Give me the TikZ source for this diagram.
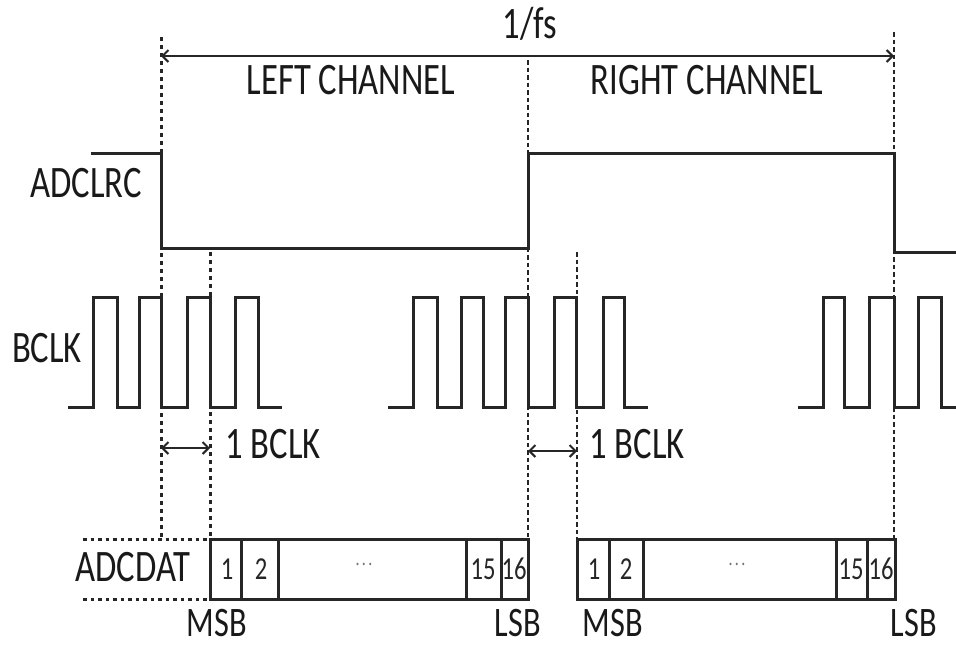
\documentclass[tikz,border=0pt]{standalone}
\usepackage{fontspec}
\setmainfont{Carlito}[FakeStretch=0.77]
\usetikzlibrary{arrows.meta}
\begin{document}
\begin{tikzpicture}[x=1pt,y=-1pt,
  sig/.style={line width=3pt, draw=black!85, line join=miter},
  guide/.style={line width=3pt, dash pattern=on 4pt off 4pt, draw=black!85},
  thinguide/.style={line width=2.2pt, dash pattern=on 4.5pt off 3pt, draw=black!85},
  dotguide/.style={line width=3pt, dash pattern=on 3.5pt off 4pt, draw=black!85},
  lbl/.style={font=\fontsize{45}{50}\selectfont, inner sep=0pt, text height=29pt, text depth=0pt, text=black!90},
  sblbl/.style={font=\fontsize{42}{46}\selectfont, inner sep=0pt, text height=27pt, text depth=0pt, text=black!90},
  cell/.style={font=\fontsize{32}{38}\selectfont, inner sep=0pt, text height=20pt, text depth=0pt, text=black!85},
  dotsl/.style={font=\fontsize{18}{20}\selectfont, inner sep=0pt, text=black!55},
  dim/.style={line width=2pt, draw=black!85, {Straight Barb[length=6pt,width=12pt,line width=2pt]}-{Straight Barb[length=6pt,width=12pt,line width=2pt]}}
]
\useasboundingbox (0,0) rectangle (956,646);

% named reference coordinates
\coordinate (t0) at (161,56);
\coordinate (t1) at (894,56);
\coordinate (a0) at (161,448);
\coordinate (a1) at (210,448);
\coordinate (b0) at (528,451);
\coordinate (b1) at (577,451);

% vertical guide lines
\draw[guide] (161,37) -- (161,539);
\draw[guide] (210,252) -- (210,539);
\draw[thinguide] (528,60) -- (528,539);
\draw[thinguide] (577,252) -- (577,539);
\draw[thinguide] (894,32) -- (894,539);

% 1/fs dimension
\draw[dim] (t0) -- (t1);
\node[lbl] (fs) at (530,24) {1/fs};
\node[lbl] (lc) at (351,80) {LEFT CHANNEL};
\node[lbl] (rc) at (707,80) {RIGHT CHANNEL};

% ADCLRC
\node[lbl] (lrc) at (86,183) {ADCLRC};
\draw[sig] (91,153) -- (161,153) -- (161,248) -- (528,248) -- (528,153) -- (894,153) -- (894,252) -- (956,252);

% BCLK
\node[lbl] (bclk) at (47,348) {BCLK};
\draw[sig] (68,407) -| (93,297) -| (117,407) -| (139,297) -| (161,407) -| (187,297) -| (210,407) -| (235,297) -| (258,407) -- (282,407);
\draw[sig] (388,407) -| (413,297) -| (437,407) -| (461,297) -| (483,407) -| (505,297) -| (528,407) -| (554,297) -| (576,407) -| (603,297) -| (624,407) -- (648,407);
\draw[sig] (798,407) -| (823,297) -| (844,407) -| (869,297) -| (894,407) -| (918,297) -| (941,407) -- (956,407);

% 1 BCLK
\draw[dim] (a0) -- (a1);
\node[lbl] (ob1) at (273,444) {1 BCLK};
\draw[dim] (b0) -- (b1);
\node[lbl] (ob2) at (637,444) {1 BCLK};

% ADCDAT
\node[lbl] (dat) at (133,567) {ADCDAT};
\draw[dotguide] (83,539) -- (210,539);
\draw[dotguide] (83,599) -- (210,599);

\draw[sig] (210,539) rectangle (528,599);
\draw[sig] (241,539) -- (241,599) (278,539) -- (278,599) (466,539) -- (466,599) (501,539) -- (501,599);
\node[cell] (l1) at (227,569) {1};
\node[cell] (l2) at (261,569) {2};
\node[dotsl] (ld) at (364,566) {·\,·\,·};
\node[cell] (l15) at (483,569) {15};
\node[cell] (l16) at (514,569) {16};

\draw[sig] (577,539) rectangle (895,599);
\draw[sig] (609,539) -- (609,599) (643,539) -- (643,599) (836,539) -- (836,599) (867,539) -- (867,599);
\node[cell] (r1) at (594,569) {1};
\node[cell] (r2) at (626,569) {2};
\node[dotsl] (rd) at (737,566) {·\,·\,·};
\node[cell] (r15) at (851,569) {15};
\node[cell] (r16) at (881,569) {16};

\node[sblbl] (m1) at (217,623) {MSB};
\node[sblbl] (s1) at (518,623) {LSB};
\node[sblbl] (m2) at (613,623) {MSB};
\node[sblbl] (s2) at (914,623) {LSB};
\end{tikzpicture}
\end{document}
